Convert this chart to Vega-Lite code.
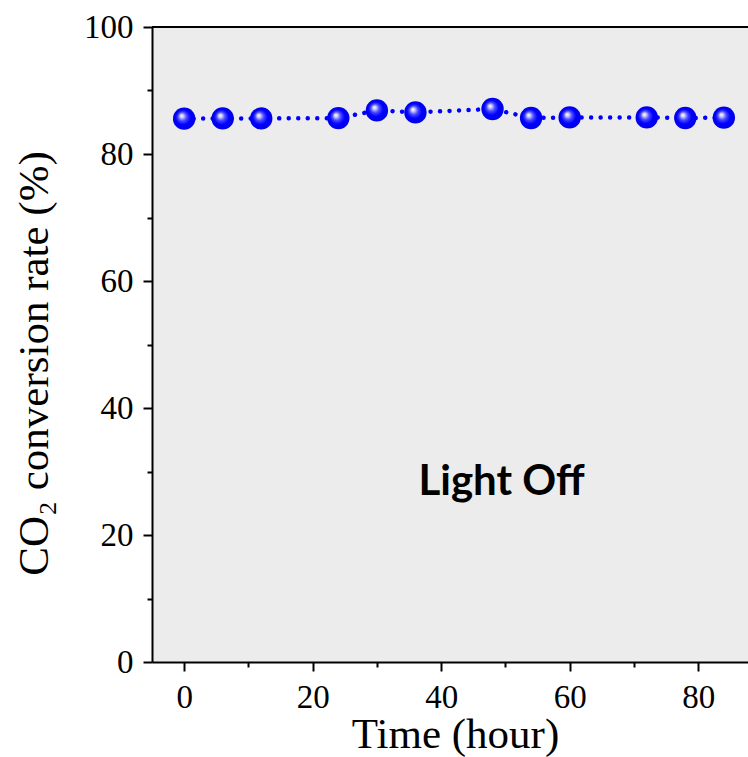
{
  "$schema": "https://vega.github.io/schema/vega-lite/v6.json",
  "autosize": "none",
  "width": 596,
  "height": 635,
  "padding": {"left": 152, "top": 27, "right": 0, "bottom": 95},
  "background": "#ffffff",
  "config": {
    "view": {"stroke": null, "fill": "#ececec"},
    "axis": {
      "domainColor": "#000000",
      "domainWidth": 2,
      "tickColor": "#000000",
      "tickWidth": 2,
      "grid": false,
      "labelFont": "Liberation Serif",
      "labelFontSize": 33,
      "labelColor": "#000000",
      "labelPadding": 10,
      "titleFont": "Liberation Serif",
      "titleFontSize": 43,
      "titleFontWeight": "normal",
      "titleColor": "#000000"
    }
  },
  "data": {
    "values": [
      {"time": 0, "rate": 85.56},
      {"time": 6, "rate": 85.6},
      {"time": 12, "rate": 85.6},
      {"time": 24, "rate": 85.65},
      {"time": 30, "rate": 86.87},
      {"time": 36, "rate": 86.55},
      {"time": 48, "rate": 87.09},
      {"time": 54, "rate": 85.67},
      {"time": 60, "rate": 85.76},
      {"time": 72, "rate": 85.76},
      {"time": 78, "rate": 85.67},
      {"time": 84, "rate": 85.72}
    ]
  },
  "encoding": {
    "x": {
      "field": "time",
      "type": "quantitative",
      "scale": {"domain": [-5, 87.76], "nice": false, "zero": false},
      "axis": {
        "title": "Time (hour)",
        "values": [0, 10, 20, 30, 40, 50, 60, 70, 80],
        "labelExpr": "datum.value % 20 === 0 ? datum.label : ''",
        "tickSize": {"condition": {"test": "datum.value % 20 === 0", "value": 9}, "value": 5},
        "titleX": 303,
        "titleY": 85,
        "titleBaseline": "alphabetic"
      }
    },
    "y": {
      "field": "rate",
      "type": "quantitative",
      "scale": {"domain": [0, 100], "nice": false},
      "axis": {
        "title": "CO₂ conversion rate (%)",
        "values": [0, 10, 20, 30, 40, 50, 60, 70, 80, 90, 100],
        "labelExpr": "datum.value % 20 === 0 ? datum.label : ''",
        "tickSize": {"condition": {"test": "datum.value % 20 === 0", "value": 9}, "value": 5},
        "titleX": -105,
        "titleY": 336,
        "titleBaseline": "alphabetic"
      }
    }
  },
  "layer": [
    {
      "mark": {
        "type": "line",
        "color": "#0000ff",
        "strokeWidth": 4.5,
        "strokeCap": "round",
        "strokeDash": [0.01, 9.5]
      }
    },
    {
      "mark": {
        "type": "point",
        "shape": "circle",
        "filled": true,
        "size": 500,
        "opacity": 1,
        "strokeWidth": 0,
        "color": {
          "gradient": "radial",
          "x1": 0.38, "y1": 0.36, "r1": 0,
          "x2": 0.5, "y2": 0.5, "r2": 0.55,
          "stops": [
            {"offset": 0, "color": "#ffffff"},
            {"offset": 0.12, "color": "#d8d8ff"},
            {"offset": 0.35, "color": "#4a4aff"},
            {"offset": 0.6, "color": "#0000ff"},
            {"offset": 1, "color": "#0000e0"}
          ]
        }
      }
    },
    {
      "data": {"values": [{"time": 49.4, "rate": 26.35, "label": "Light Off"}]},
      "mark": {
        "type": "text",
        "font": "Lato",
        "fontWeight": "bold",
        "fontSize": 42,
        "color": "#000000",
        "align": "center",
        "baseline": "alphabetic"
      },
      "encoding": {
        "text": {"field": "label"}
      }
    },
    {
      "mark": {"type": "rule", "color": "#000000", "strokeWidth": 2},
      "encoding": {
        "y": {"datum": 100},
        "x": null
      }
    }
  ]
}
